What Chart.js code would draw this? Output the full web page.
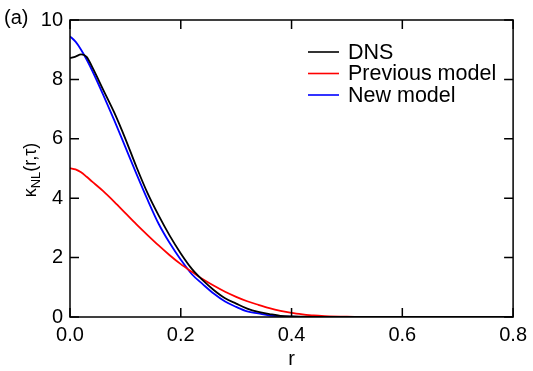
<!DOCTYPE html>
<html>
<head>
<meta charset="utf-8">
<script src="https://cdn.jsdelivr.net/npm/chart.js@4.4.0/dist/chart.umd.min.js"></script>
<style>
  html, body { margin: 0; padding: 0; background: #fff; }
  #wrap { position: relative; width: 533px; height: 371px; }
</style>
</head>
<body>
<div id="wrap"><canvas id="chart" width="533" height="371"></canvas></div>
<script>
// r values and curves
const rDns = [0, 0.01, 0.02, 0.03, 0.04, 0.06, 0.08, 0.10, 0.12, 0.14, 0.16, 0.18, 0.20, 0.22, 0.24, 0.26, 0.28, 0.30, 0.32, 0.34, 0.36, 0.38, 0.40, 0.45, 0.50, 0.60, 0.70, 0.80];
const dns  = [8.72, 8.77, 8.84, 8.76, 8.42, 7.65, 6.88, 6.0, 5.05, 4.17, 3.42, 2.74, 2.14, 1.62, 1.23, 0.90, 0.63, 0.45, 0.28, 0.17, 0.10, 0.04, 0.02, 0.005, 0, 0, 0, 0];

const rPrev = [0, 0.01, 0.02, 0.03, 0.04, 0.06, 0.08, 0.10, 0.12, 0.14, 0.16, 0.18, 0.20, 0.22, 0.24, 0.26, 0.28, 0.30, 0.32, 0.34, 0.36, 0.38, 0.40, 0.42, 0.44, 0.46, 0.50, 0.55, 0.60, 0.70, 0.80];
const prevModel = [5.01, 4.97, 4.87, 4.72, 4.56, 4.24, 3.88, 3.50, 3.12, 2.76, 2.41, 2.08, 1.78, 1.52, 1.27, 1.05, 0.85, 0.68, 0.53, 0.41, 0.30, 0.21, 0.14, 0.09, 0.05, 0.03, 0.01, 0, 0, 0, 0];

const rNew = [0, 0.01, 0.02, 0.03, 0.04, 0.06, 0.08, 0.10, 0.12, 0.14, 0.16, 0.18, 0.20, 0.22, 0.24, 0.26, 0.28, 0.30, 0.32, 0.34, 0.36, 0.38, 0.40, 0.45, 0.50, 0.60, 0.70, 0.80];
const newModel = [9.45, 9.27, 9.0, 8.67, 8.3, 7.48, 6.62, 5.72, 4.82, 3.95, 3.14, 2.49, 1.93, 1.44, 1.10, 0.78, 0.52, 0.34, 0.19, 0.12, 0.05, 0.02, 0.01, 0, 0, 0, 0, 0];

const seriesNames = ['DNS', 'Previous model', 'New model'];
const seriesColors = ['#000000', '#ff0000', '#0000ff'];

const xTicks = [0, 0.2, 0.4, 0.6, 0.8];
const yTicks = [0, 2, 4, 6, 8, 10];

const FONT = '"Liberation Sans", Arial, Helvetica, sans-serif';

function toPoints(xs, ys) {
    return xs.map((x, i) => ({ x: x, y: ys[i] }));
}

// frame, inward ticks, legend and the y title with its subscript
const framePlugin = {
    id: 'frame',
    afterDatasetsDraw(chart) {
        const ctx = chart.ctx;
        const a = chart.chartArea;
        const xs = chart.scales.x, ys = chart.scales.y;
        const tl = 9;
        ctx.save();
        ctx.strokeStyle = '#000';
        ctx.lineWidth = 1.5;
        ctx.strokeRect(a.left, a.top, a.right - a.left, a.bottom - a.top);
        ctx.beginPath();
        xTicks.forEach(v => {
            const px = xs.getPixelForValue(v);
            ctx.moveTo(px, a.bottom); ctx.lineTo(px, a.bottom - tl);
            ctx.moveTo(px, a.top); ctx.lineTo(px, a.top + tl);
        });
        yTicks.forEach(v => {
            const py = ys.getPixelForValue(v);
            ctx.moveTo(a.left, py); ctx.lineTo(a.left + tl, py);
            ctx.moveTo(a.right, py); ctx.lineTo(a.right - tl, py);
        });
        ctx.stroke();

        // legend
        ctx.font = '21.5px ' + FONT;
        ctx.textBaseline = 'middle';
        ctx.textAlign = 'left';
        chart.data.datasets.forEach((ds, i) => {
            const y = 52 + i * 21.5;
            ctx.strokeStyle = ds.borderColor;
            ctx.lineWidth = 1.6;
            ctx.beginPath();
            ctx.moveTo(308, y); ctx.lineTo(339, y);
            ctx.stroke();
            ctx.fillStyle = '#000';
            ctx.fillText(ds.label, 348, y + 1);
        });

        // y axis title: kappa_NL(r,tau)
        ctx.translate(30, 170);
        ctx.rotate(-Math.PI / 2);
        ctx.fillStyle = '#000';
        ctx.textBaseline = 'alphabetic';
        const big = '18px ' + FONT, small = '13px ' + FONT;
        ctx.font = big;
        const w1 = ctx.measureText('\u03ba').width;
        const w3 = ctx.measureText('(r,\u03c4)').width;
        ctx.font = small;
        const w2 = ctx.measureText('NL').width;
        let x = -(w1 + w2 + w3) / 2;
        ctx.font = big;
        ctx.fillText('\u03ba', x, 6);
        x += w1;
        ctx.font = small;
        ctx.fillText('NL', x, 10);
        x += w2;
        ctx.font = big;
        ctx.fillText('(r,\u03c4)', x, 6);

        ctx.restore();

        // panel tag
        ctx.save();
        ctx.font = '20px ' + FONT;
        ctx.fillStyle = '#000';
        ctx.textBaseline = 'middle';
        ctx.fillText('(a)', 4, 18);
        ctx.restore();
    }
};

const ctx = document.getElementById('chart').getContext('2d');
new Chart(ctx, {
    type: 'line',
    data: {
        datasets: [
            { label: seriesNames[0], data: toPoints(rDns, dns), borderColor: seriesColors[0] },
            { label: seriesNames[1], data: toPoints(rPrev, prevModel), borderColor: seriesColors[1] },
            { label: seriesNames[2], data: toPoints(rNew, newModel), borderColor: seriesColors[2] }
        ].map(ds => Object.assign(ds, {
            borderWidth: 1.8,
            pointRadius: 0,
            fill: false,
            cubicInterpolationMode: 'monotone'
        }))
    },
    options: {
        responsive: false,
        animation: false,
        layout: { padding: { top: 20, right: 16, left: 0, bottom: 0 } },
        plugins: { legend: { display: false }, tooltip: { enabled: false } },
        scales: {
            x: {
                type: 'linear',
                min: 0, max: 0.8,
                afterBuildTicks: s => { s.ticks = xTicks.map(v => ({ value: v })); },
                afterFit: s => { s.height = 54; },
                grid: { display: false, drawTicks: false },
                border: { display: false },
                ticks: {
                    padding: 6,
                    color: '#000',
                    font: { family: FONT, size: 20 },
                    maxRotation: 0,
                    callback: v => v.toFixed(1)
                },
                title: {
                    display: true,
                    text: 'r',
                    color: '#000',
                    font: { family: FONT, size: 20 },
                    padding: { top: 4, bottom: 0 }
                }
            },
            y: {
                min: 0, max: 10,
                afterBuildTicks: s => { s.ticks = yTicks.map(v => ({ value: v })); },
                afterFit: s => { s.width = 70; },
                grid: { display: false, drawTicks: false },
                border: { display: false },
                ticks: {
                    padding: 7,
                    color: '#000',
                    font: { family: FONT, size: 20 }
                }
            }
        }
    },
    plugins: [framePlugin]
});
</script>
</body>
</html>
